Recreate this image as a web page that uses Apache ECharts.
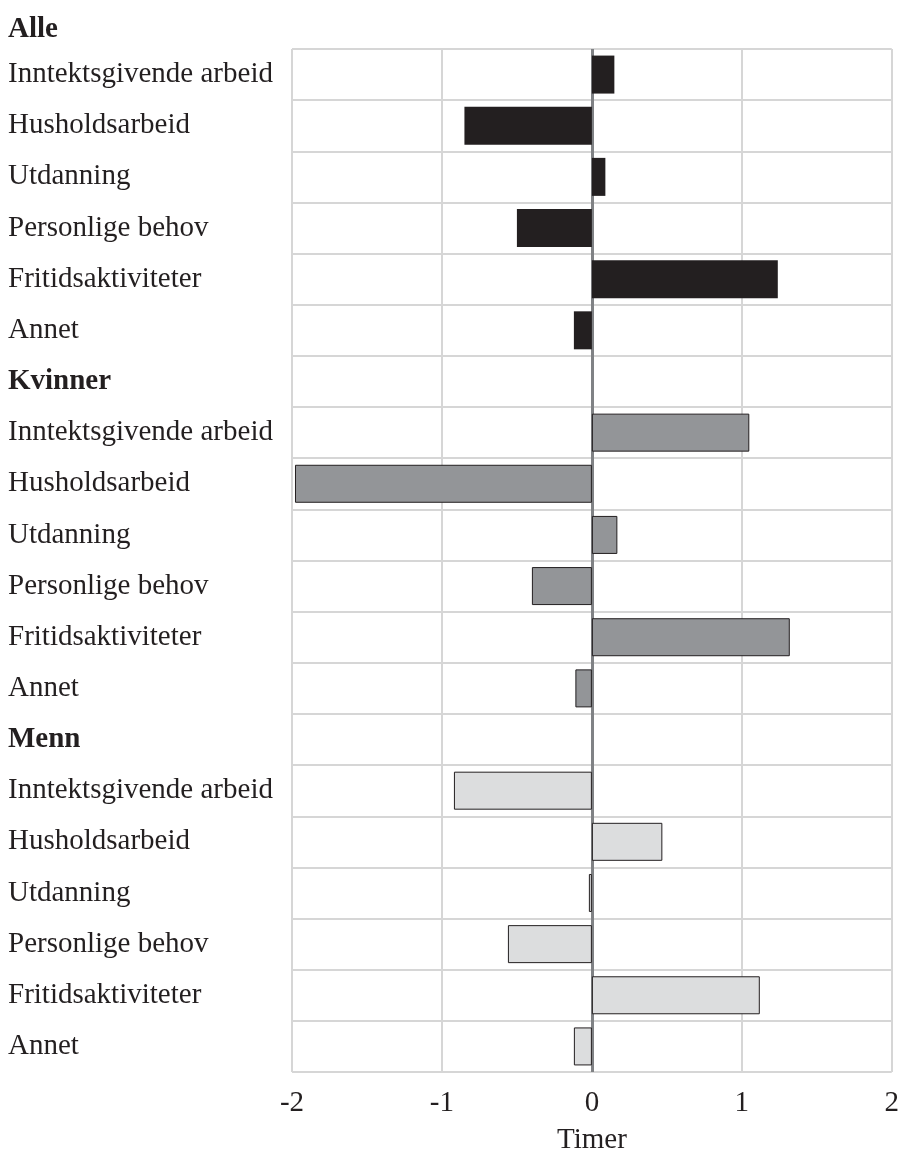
<!DOCTYPE html>
<html>
<head>
<meta charset="utf-8">
<script src="https://cdn.jsdelivr.net/npm/echarts@6/dist/echarts.min.js"></script>
<style>
html,body{margin:0;padding:0;background:#fff;}
#chart{width:902px;height:1160px;}
</style>
</head>
<body>
<div id="chart"></div>
<script>
// Data
const topHeader = 'Alle';
const groupHeaders = ['Kvinner', 'Menn'];
const activities = ['Inntektsgivende arbeid', 'Husholdsarbeid', 'Utdanning', 'Personlige behov', 'Fritidsaktiviteter', 'Annet'];
const alleValues = [0.15, -0.85, 0.09, -0.50, 1.24, -0.12];
const kvinnerValues = [1.05, -1.98, 0.17, -0.40, 1.32, -0.11];
const mennValues = [-0.92, 0.47, -0.02, -0.56, 1.12, -0.12];
const xTicks = [-2, -1, 0, 1, 2];
const axisTitle = 'Timer';

const styles = {
  alle: {color: '#231f20', borderColor: '#231f20', borderWidth: 0},
  kvinner: {color: '#939598', borderColor: '#231f20', borderWidth: 1},
  menn: {color: '#dcddde', borderColor: '#231f20', borderWidth: 1}
};

const categories = [];
const data = [];
const headerSet = new Set();
activities.forEach((a, i) => { categories.push(a); data.push({value: alleValues[i], itemStyle: styles.alle}); });
categories.push(groupHeaders[0]); headerSet.add(categories.length - 1); data.push({value: null});
activities.forEach((a, i) => { categories.push(a); data.push({value: kvinnerValues[i], itemStyle: styles.kvinner}); });
categories.push(groupHeaders[1]); headerSet.add(categories.length - 1); data.push({value: null});
activities.forEach((a, i) => { categories.push(a); data.push({value: mennValues[i], itemStyle: styles.menn}); });

const FONT = '"Liberation Serif", "DejaVu Serif", serif';
const TXT = '#231f20';
const GRID = '#d6d6d6';

const chart = echarts.init(document.getElementById('chart'));
chart.setOption({
  backgroundColor: '#fff',
  animation: false,
  title: {
    text: topHeader,
    left: 8, top: 15, padding: 0,
    textStyle: {fontFamily: FONT, fontSize: 29, fontWeight: 'bold', color: TXT}
  },
  grid: {left: 292, right: 8, top: 49, bottom: 78, containLabel: false},
  xAxis: {
    type: 'value',
    min: xTicks[0], max: xTicks[xTicks.length - 1], interval: 1,
    axisLine: {show: false},
    axisTick: {show: false},
    splitLine: {show: true, lineStyle: {color: GRID, width: 2}},
    axisLabel: {fontFamily: FONT, fontSize: 29, color: TXT, margin: 17,
      formatter: v => xTicks.includes(v) ? String(v) : ''},
    name: axisTitle, nameLocation: 'middle', nameGap: 54,
    nameTextStyle: {fontFamily: FONT, fontSize: 29, color: TXT}
  },
  yAxis: {
    type: 'category',
    data: categories,
    inverse: true,
    axisLine: {show: false},
    axisTick: {show: false},
    splitLine: {show: true, interval: 0, lineStyle: {color: GRID, width: 2}},
    axisLabel: {
      interval: 0, align: 'left', margin: 284,
      fontFamily: FONT, fontSize: 29, color: TXT,
      formatter: (v, idx) => headerSet.has(idx) ? '{b|' + v + '}' : v,
      rich: {b: {fontFamily: FONT, fontSize: 29, fontWeight: 'bold', color: TXT}}
    }
  },
  series: [{
    type: 'bar',
    data: data,
    barWidth: 38,
    z: 3,
    markLine: {
      silent: true,
      symbol: 'none',
      label: {show: false},
      lineStyle: {color: '#808285', width: 3, type: 'solid'},
      data: [{xAxis: 0}],
      z: 2
    }
  }]
});
</script>
</body>
</html>
